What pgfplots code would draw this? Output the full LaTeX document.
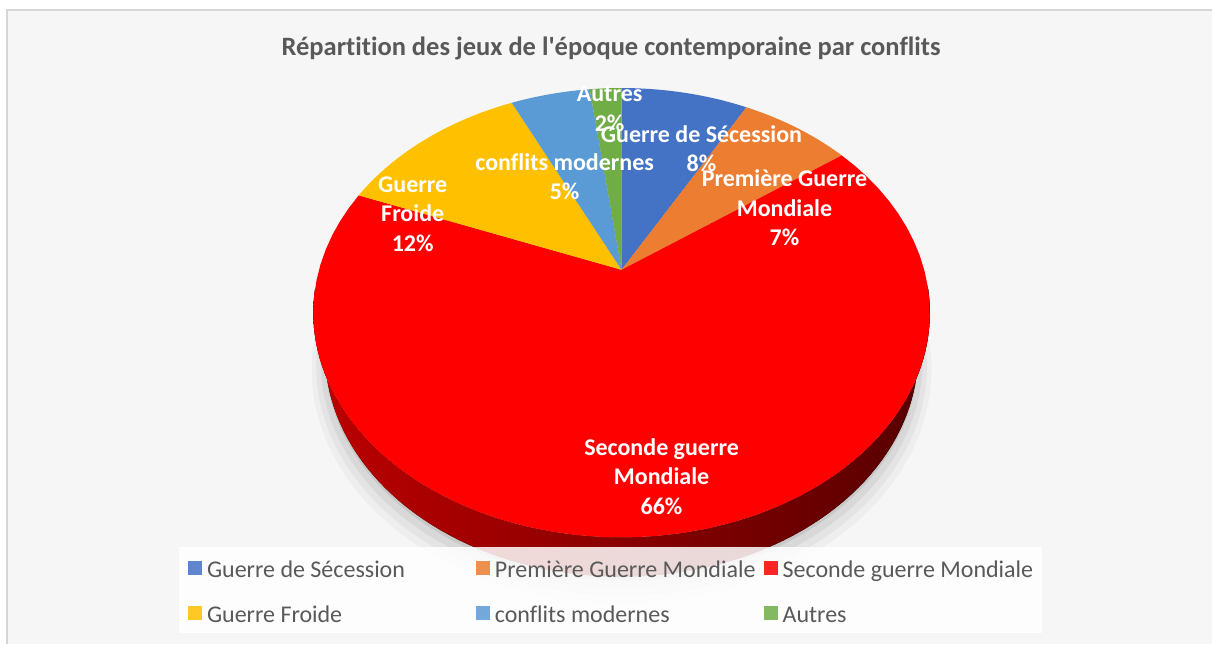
\documentclass[border=0pt]{standalone}
\usepackage{pgfplots}
\pgfplotsset{compat=1.18}
\usepackage{fontspec}
\setmainfont{Carlito}[Ligatures={TeXOff,CommonOff}]
\definecolor{cSec}{HTML}{4472C4}
\definecolor{cPrem}{HTML}{ED7D31}
\definecolor{cSeconde}{HTML}{FF0000}
\definecolor{cFroide}{HTML}{FFC000}
\definecolor{cMod}{HTML}{5B9BD5}
\definecolor{cAut}{HTML}{70AD47}
\definecolor{txt}{HTML}{595959}
\definecolor{sideL}{HTML}{BC0000}
\definecolor{sideR}{HTML}{560000}
\definecolor{bg}{HTML}{F6F6F6}

% perspective projection of the pie rims (angle clockwise from the back)
\pgfmathdeclarefunction{pxx}{1}{\pgfmathparse{622+1122*sin(#1)/(3.705+0.708*cos(#1))}}
\pgfmathdeclarefunction{pyy}{1}{\pgfmathparse{374+802.7*cos(#1)/(3.705+0.708*cos(#1))}}
\pgfmathdeclarefunction{bxx}{1}{\pgfmathparse{1122*sin(#1)/(3.8462+0.708*cos(#1))}}
\pgfmathdeclarefunction{byy}{1}{\pgfmathparse{(802.7*cos(#1)-161)/(3.8462+0.708*cos(#1))}}

% shares (percent) and colours, clockwise from 12 o'clock
\def\piedata{8/cSec, 7/cPrem, 66/cSeconde, 12/cFroide, 5/cMod, 2/cAut}

\begin{document}
\begin{tikzpicture}
\begin{axis}[
  width=1213pt, height=644pt, scale only axis,
  xmin=0, xmax=1213, ymin=0, ymax=644,
  hide axis, clip=false,
  legend columns=3,
  legend cell align=left,
  legend image code/.code={\path[#1] (0pt,-7pt) rectangle (14pt,7pt);},
  legend style={draw=none, fill=white, fill opacity=0.85, text opacity=1,
    inner xsep=9pt, inner ysep=9.5pt,
    nodes={inner sep=0pt, text=txt, font=\fontsize{24}{29}\selectfont},
    column sep=0pt, row sep=23.5pt,
    at={(axis cs:179,10)}, anchor=south west},
]
% background
\pgfplotsextra{
  \fill[white] (axis cs:0,0) rectangle (axis cs:1213,644);
  \fill[bg] (axis cs:7,0) rectangle (axis cs:1213,634);
  \draw[black!16, line width=1.6pt] (axis cs:7,0) -- (axis cs:7,634) -- (axis cs:1213,634);
}
% soft shadow under the pie
\pgfplotsextra{
  \foreach \k/\dy/\op in {1.045/13/0.03, 1.03/10/0.04, 1.015/7/0.05, 1.0/4/0.07} {
    \fill[black, fill opacity=\op]
      plot[domain=0:360, samples=120, variable=\t]
        (axis cs:{622+\k*bxx(\t)},{374+\k*byy(\t)-\dy}) -- cycle;
  }
}
% side of the pie
\pgfplotsextra{
  \fill[left color=sideL, right color=sideR]
    plot[domain=95:265, samples=90, variable=\t] (axis cs:{pxx(\t)},{pyy(\t)})
    -- plot[domain=265:95, samples=90, variable=\t] (axis cs:{622+bxx(\t)},{374+byy(\t)})
    -- cycle;
}
% top face slices
\pgfplotsextra{
  \gdef\cum{0}
  \foreach \v/\col in \piedata {
    \pgfmathsetmacro\a{\cum*3.6}
    \pgfmathsetmacro\b{(\cum+\v)*3.6}
    \fill[\col] (axis cs:622,374)
      -- plot[domain=\a:\b, samples=60, variable=\t] (axis cs:{pxx(\t)},{pyy(\t)})
      -- cycle;
    \pgfmathsetmacro\newcum{\cum+\v}
    \xdef\cum{\newcum}
  }
}
% title
\node[font=\bfseries\fontsize{26.5}{32}\selectfont, text=txt] at (axis cs:611.5,596) {Répartition des jeux de l'époque contemporaine par conflits};
% data labels
\begin{scope}[every node/.style={font=\bfseries\fontsize{24}{29.5}\selectfont, text=white, align=center}]
\node at (axis cs:610,535) {Autres\\2\%};
\node at (axis cs:702,495) {Guerre de Sécession\\8\%};
\node at (axis cs:785,436) {Première Guerre\\Mondiale\\7\%};
\node at (axis cs:565,467) {conflits modernes\\5\%};
\node at (axis cs:413,430) {Guerre\\Froide\\12\%};
\node at (axis cs:662,167) {Seconde guerre\\Mondiale\\66\%};
\end{scope}
% legend
\addlegendimage{fill=cSec, draw=none}
\addlegendentry{\makebox[274pt][l]{\hspace*{5pt}\strut Guerre de Sécession}}
\addlegendimage{fill=cPrem, draw=none}
\addlegendentry{\makebox[274pt][l]{\hspace*{5pt}\strut Première Guerre Mondiale}}
\addlegendimage{fill=cSeconde, draw=none}
\addlegendentry{\hspace*{5pt}\strut Seconde guerre Mondiale}
\addlegendimage{fill=cFroide, draw=none}
\addlegendentry{\makebox[274pt][l]{\hspace*{5pt}\strut Guerre Froide}}
\addlegendimage{fill=cMod, draw=none}
\addlegendentry{\makebox[274pt][l]{\hspace*{5pt}\strut conflits modernes}}
\addlegendimage{fill=cAut, draw=none}
\addlegendentry{\hspace*{5pt}\strut Autres}
\end{axis}
\end{tikzpicture}
\end{document}
